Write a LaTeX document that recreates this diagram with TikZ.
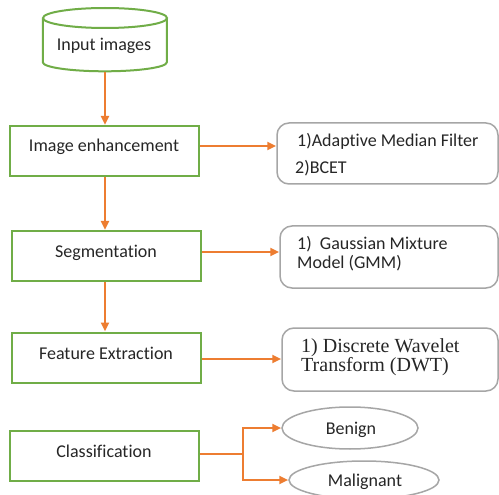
\documentclass[tikz,border=0pt]{standalone}
\usepackage{fontspec}
\setmainfont[Ligatures={NoCommon}]{Carlito}
\newfontfamily\timesf{Liberation Serif}
\usetikzlibrary{arrows.meta,shapes.geometric}
\definecolor{grn}{HTML}{70AD47}
\definecolor{org}{HTML}{ED7D31}
\definecolor{gry}{HTML}{A6A6A6}
\definecolor{txtc}{HTML}{262626}
\begin{document}
\begin{tikzpicture}[x=1pt,y=-1pt,
  gbox/.style={draw=grn,line width=2pt,minimum width=189pt,minimum height=50pt,inner sep=0pt},
  rbox/.style={draw=gry,line width=1.5pt,rounded corners=12pt,inner sep=0pt},
  lbl/.style={text=txtc,font=\fontsize{18}{20}\selectfont,inner sep=0pt},
  tlbl/.style={text=txtc,font=\timesf\fontsize{20}{22}\selectfont,inner sep=0pt},
  oval/.style={ellipse,draw=gry,line width=1.5pt,inner sep=0pt},
  arr/.style={draw=org,line width=2.5pt,-{Triangle[length=9pt,width=8pt]}}]
\useasboundingbox[fill=white] (0,0) rectangle (499,495);

% cylinder
\node[minimum width=124pt,minimum height=63pt,inner sep=0pt] (inp) at (105,40) {};
\draw[grn,line width=2pt,fill=white] (inp.north west) ++(0,10) -- ++(0,44)
  arc[start angle=180,end angle=360,x radius=62pt,y radius=9pt] -- ++(0,-44);
\draw[grn,line width=2pt] (105,18) ellipse[x radius=62pt,y radius=10pt];
\node[lbl,anchor=base] (inpt) at (104,51) {Input images};

% left boxes
\node[gbox] (enh) at (104.5,151) {};
\node[lbl,anchor=base] (enht) at (104,152) {Image enhancement};
\node[gbox] (seg) at (106.5,256) {};
\node[lbl,anchor=base] (segt) at (106,258) {Segmentation};
\node[gbox] (fea) at (106.5,357.5) {};
\node[lbl,anchor=base] (feat) at (106,359) {Feature Extraction};
\node[gbox] (cls) at (104.5,456) {};
\node[lbl,anchor=base] (clst) at (104,457) {Classification};

% right boxes
\node[rbox,minimum width=221pt,minimum height=61pt] (amf) at (387.5,153.5) {};
\node[lbl,anchor=base west] (amf1) at (297,147) {1)Adaptive Median Filter};
\node[lbl,anchor=base west] (amf2) at (295,174) {2)BCET};
\node[rbox,minimum width=218pt,minimum height=62pt] (gmm) at (389,257) {};
\node[lbl,anchor=base west] (gmm1) at (297,250) {1)\ \ Gaussian Mixture};
\node[lbl,anchor=base west] (gmm2) at (297,269) {Model (GMM)};
\node[rbox,minimum width=216pt,minimum height=63pt] (dwt) at (390,359.5) {};
\node[tlbl,anchor=base west] (dwt1) at (301,352) {1) Discrete Wavelet};
\node[tlbl,anchor=base west] (dwt2) at (301,371) {Transform (DWT)};

% ovals
\node[oval,minimum width=136pt,minimum height=42pt] (ben) at (350,428) {};
\node[lbl,anchor=base] (bent) at (351,434) {Benign};
\node[oval,minimum width=150pt,minimum height=38pt] (mal) at (364,480) {};
\node[lbl,anchor=base] (malt) at (365,486) {Malignant};

% arrows
\draw[arr] (inp.south) -- (inp.south |- enh.north);
\draw[arr] (enh.south -| inp.south) -- (inp.south |- seg.north);
\draw[arr] (seg.south -| inp.south) -- (inp.south |- fea.north);

\coordinate (e1) at ([yshift=5pt]enh.east);
\draw[arr] (e1) -- (e1 -| amf.west);
\coordinate (s1) at ([yshift=4pt]seg.east);
\draw[arr] (s1) -- (s1 -| gmm.west);
\coordinate (f1) at ([yshift=-1.5pt]fea.east);
\draw[arr] (f1) -- (f1 -| dwt.west);

\coordinate (c1) at ([yshift=2pt]cls.east);
\coordinate (c2) at ([xshift=43pt]c1);
\draw[arr] (c1) -- (c2) |- (ben.west);
\draw[arr] (c2) |- (mal.west);
\end{tikzpicture}
\end{document}
